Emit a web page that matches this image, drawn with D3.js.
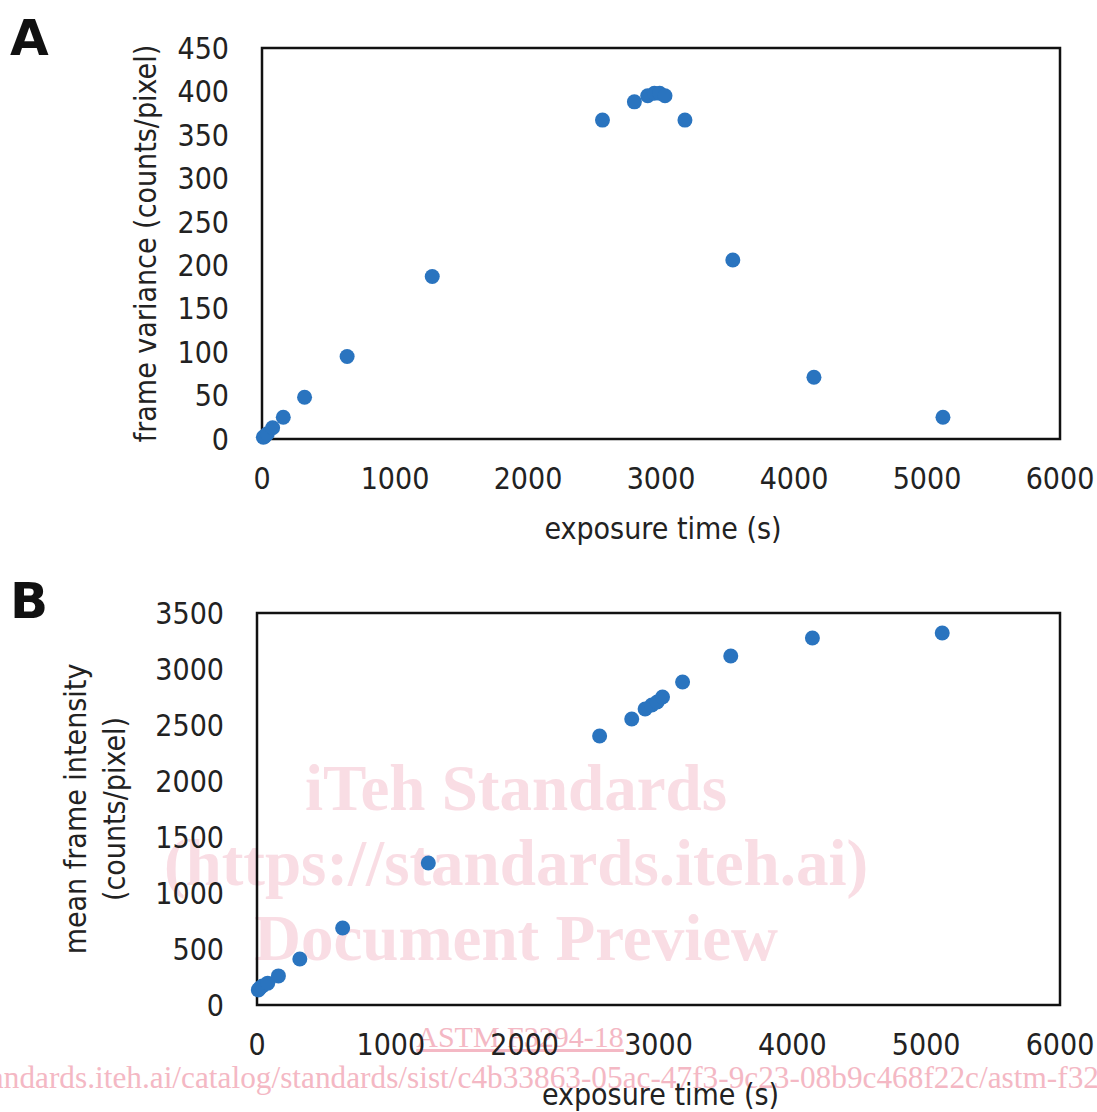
<!DOCTYPE html>
<html>
<head>
<meta charset="utf-8">
<script src="https://cdn.jsdelivr.net/npm/d3@7"></script>
<style>
  body { margin: 0; background: #fff; }
  text { font-family: "DejaVu Sans Condensed", "DejaVu Sans", sans-serif; fill: #222; }
</style>
</head>
<body>
<div id="chart"></div>
<script>
// exposure times (s), shared by both panels
var exposureTimes = [10, 20, 40, 80, 160, 320, 640, 1280, 2560, 2800, 2900, 2950, 2990, 3030, 3180, 3540, 4150, 5120];
// panel A: frame variance (counts/pixel)
var frameVariance = [2, 3, 6, 13, 25, 48, 95, 187, 367, 388, 395, 398, 398, 395, 367, 206, 71, 25];
// panel B: mean frame intensity (counts/pixel)
var meanIntensity = [135, 150, 170, 195, 260, 411, 687, 1268, 2402, 2554, 2643, 2679, 2705, 2750, 2884, 3116, 3277, 3321];

var xTicks = [0, 1000, 2000, 3000, 4000, 5000, 6000];
var yTicksA = [0, 50, 100, 150, 200, 250, 300, 350, 400, 450];
var yTicksB = [0, 500, 1000, 1500, 2000, 2500, 3000, 3500];

var W = 1097, H = 1112;
var dotColor = "#2a74bf";

var svg = d3.select("#chart").append("svg")
  .attr("width", W)
  .attr("height", H);

svg.append("rect").attr("width", W).attr("height", H).attr("fill", "#fff");

// watermark (drawn under the chart)
var wmLines = [["iTeh Standards", 810], ["(https://standards.iteh.ai)", 885], ["Document Preview", 960]];
svg.append("g").selectAll("text")
  .data(wmLines).enter().append("text")
    .attr("x", 516)
    .attr("y", function(d) { return d[1]; })
    .attr("text-anchor", "middle")
    .style("font-family", "'Liberation Serif', serif")
    .style("font-weight", "bold")
    .style("font-size", "65px")
    .style("fill", "#f9dde4")
    .text(function(d) { return d[0]; });

svg.append("text").attr("x", 520).attr("y", 1047).attr("text-anchor", "middle")
  .style("font-family", "'Liberation Serif', serif")
  .style("font-size", "30px").style("fill", "#f4b8c4")
  .style("text-decoration", "underline")
  .text("ASTM F3294-18");
svg.append("text").attr("x", -118).attr("y", 1088)
  .attr("textLength", 1290).attr("lengthAdjust", "spacingAndGlyphs")
  .style("font-family", "'Liberation Serif', serif")
  .style("font-size", "31px").style("fill", "#f4b8c4")
  .text("https://standards.iteh.ai/catalog/standards/sist/c4b33863-05ac-47f3-9c23-08b9c468f22c/astm-f3294-18");

function panel(o) {
  var x = d3.scaleLinear().domain([0, 6000]).range([o.left, o.right]);
  var y = d3.scaleLinear().domain([0, o.yMax]).range([o.bottom, o.top]);
  var g = svg.append("g");

  // x tick labels
  g.append("g").selectAll("text")
    .data(xTicks).enter().append("text")
      .attr("x", function(d) { return x(d); })
      .attr("y", o.bottom + 50)
      .attr("text-anchor", "middle")
      .style("font-size", "30px")
      .text(function(d) { return d; });

  // y tick labels
  g.append("g").selectAll("text")
    .data(o.yTicks).enter().append("text")
      .attr("x", o.left - 33)
      .attr("y", function(d) { return y(d); })
      .attr("dy", "0.36em")
      .attr("text-anchor", "end")
      .style("font-size", "30px")
      .text(function(d) { return d; });

  // x title
  g.append("text")
    .attr("x", (o.left + o.right) / 2 + 2)
    .attr("y", o.bottom + o.xTitleOffset)
    .attr("text-anchor", "middle")
    .style("font-size", "30px")
    .text("exposure time (s)");

  // y title (one or more lines)
  o.yTitle.forEach(function(line, i) {
    g.append("text")
      .attr("transform", "translate(" + o.yTitleX[i] + "," + (o.top + o.bottom) / 2 + ") rotate(-90)")
      .attr("text-anchor", "middle")
      .attr("dy", "0.36em")
      .style("font-size", "30px")
      .text(line);
  });

  // frame
  g.append("rect")
    .attr("x", o.left).attr("y", o.top)
    .attr("width", o.right - o.left).attr("height", o.bottom - o.top)
    .attr("fill", "none").attr("stroke", "#111").attr("stroke-width", 2.5);

  // points
  g.append("g").selectAll("circle")
    .data(exposureTimes).enter().append("circle")
      .attr("cx", function(d) { return x(d); })
      .attr("cy", function(d, i) { return y(o.values[i]); })
      .attr("r", 7.5)
      .attr("fill", dotColor);

  // panel letter
  svg.append("text")
    .attr("x", 10).attr("y", o.letterY)
    .style("font-family", "'DejaVu Sans', sans-serif")
    .style("font-weight", "bold")
    .style("font-size", "50px")
    .style("fill", "#111")
    .text(o.letter);
}

panel({
  letter: "A", letterY: 55,
  left: 262, right: 1060, top: 48, bottom: 439,
  yMax: 450, yTicks: yTicksA, values: frameVariance,
  yTitle: ["frame variance (counts/pixel)"], yTitleX: [145],
  xTitleOffset: 100
});

panel({
  letter: "B", letterY: 618,
  left: 257, right: 1060, top: 613, bottom: 1005,
  yMax: 3500, yTicks: yTicksB, values: meanIntensity,
  yTitle: ["mean frame intensity", "(counts/pixel)"], yTitleX: [75, 114],
  xTitleOffset: 100
});
</script>
</body>
</html>
